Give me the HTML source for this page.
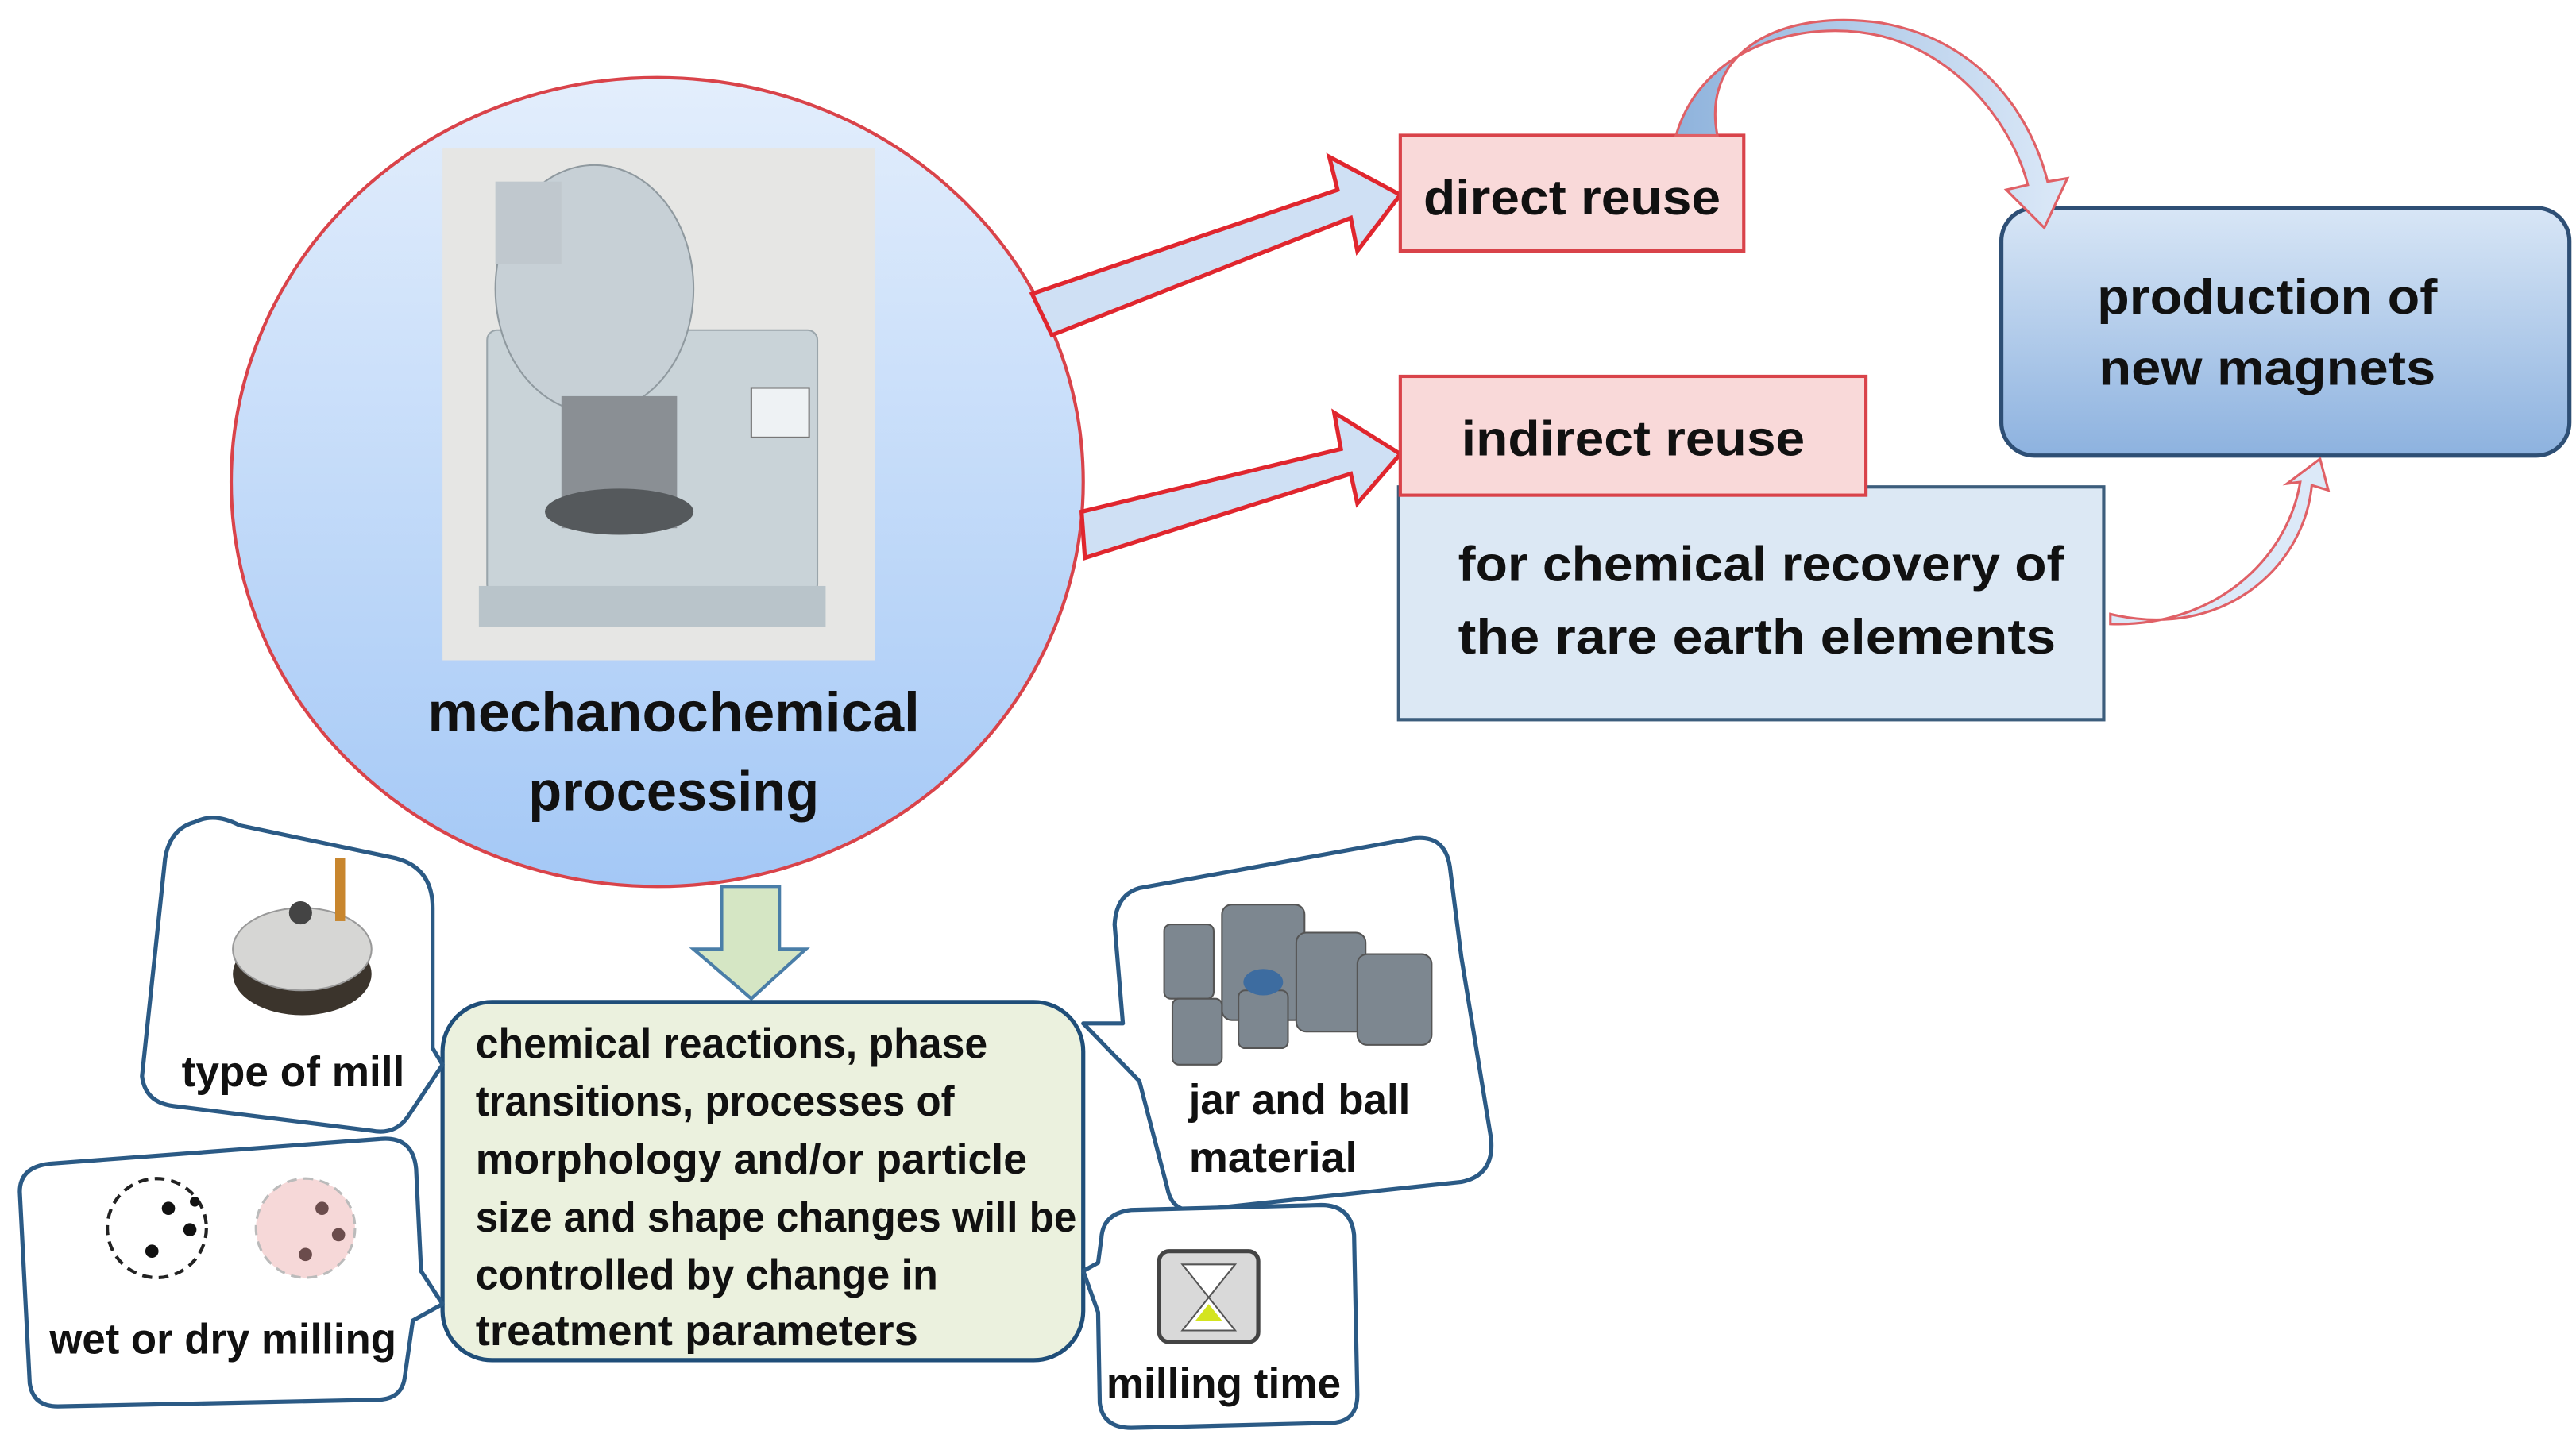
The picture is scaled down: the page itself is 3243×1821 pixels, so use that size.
<!DOCTYPE html>
<html><head><meta charset="utf-8"><style>
html,body{margin:0;padding:0;background:#fff;}
svg{display:block;}
text{font-family:"Liberation Sans",sans-serif;font-weight:bold;fill:#111;}
</style></head><body>
<svg width="3243" height="1821" viewBox="0 0 1560 876" preserveAspectRatio="none" xmlns="http://www.w3.org/2000/svg">
<defs>
<linearGradient id="cg" x1="0" y1="0" x2="0" y2="1"><stop offset="0" stop-color="#e3eefc"/><stop offset="1" stop-color="#a4c8f6"/></linearGradient>
<linearGradient id="pg" x1="0" y1="0" x2="0" y2="1"><stop offset="0" stop-color="#d8e6f6"/><stop offset="1" stop-color="#8db2df"/></linearGradient>
<linearGradient id="ag" x1="0" y1="0" x2="1" y2="0"><stop offset="0" stop-color="#8fb3dc"/><stop offset="1" stop-color="#dce9f8"/></linearGradient>
</defs>
<rect width="1560" height="876" fill="#fff"/>

<!-- circle -->
<ellipse cx="398" cy="292" rx="258" ry="245" fill="url(#cg)" stroke="#d9434a" stroke-width="2"/>
<!-- photo -->
<rect x="268" y="90" width="262" height="310" fill="#e6e6e4"/>
<rect x="295" y="200" width="200" height="160" rx="6" fill="#c9d3d8" stroke="#9aa5ab"/>
<ellipse cx="360" cy="175" rx="60" ry="75" fill="#c7d0d6" stroke="#8f999f"/>
<rect x="300" y="110" width="40" height="50" fill="#c0c8ce"/>
<rect x="340" y="240" width="70" height="80" fill="#8a8f94"/>
<ellipse cx="375" cy="310" rx="45" ry="14" fill="#55595c"/>
<rect x="455" y="235" width="35" height="30" fill="#eef2f4" stroke="#777"/>
<rect x="290" y="355" width="210" height="25" fill="#b9c4ca"/>
<text x="408" y="443" font-size="34" text-anchor="middle" textLength="298" lengthAdjust="spacingAndGlyphs">mechanochemical</text>
<text x="408" y="491" font-size="34" text-anchor="middle" textLength="176" lengthAdjust="spacingAndGlyphs">processing</text>

<!-- block arrows -->
<polygon points="625,178 810,115 805,95 848,118 822,152 818,132 637,203" fill="#cfe0f4" stroke="#e0262e" stroke-width="2.5"/>
<polygon points="655,310 812,272 808,250 848,275 822,305 818,287 657,338" fill="#cfe0f4" stroke="#e0262e" stroke-width="2.5"/>

<!-- boxes -->
<rect x="848" y="82" width="208" height="70" fill="#f9d9d9" stroke="#d9434a" stroke-width="2"/>
<text x="862" y="130" font-size="30" textLength="180" lengthAdjust="spacingAndGlyphs">direct reuse</text>
<rect x="847" y="295" width="427" height="141" fill="#dce8f4" stroke="#3c5d7c" stroke-width="2"/>
<rect x="848" y="228" width="282" height="72" fill="#f9d9d9" stroke="#d9434a" stroke-width="2"/>
<text x="885" y="276" font-size="30" textLength="208" lengthAdjust="spacingAndGlyphs">indirect reuse</text>
<text x="883" y="352" font-size="30" textLength="367" lengthAdjust="spacingAndGlyphs">for chemical recovery of</text>
<text x="883" y="396" font-size="30" textLength="362" lengthAdjust="spacingAndGlyphs">the rare earth elements</text>
<rect x="1212" y="126" width="344" height="150" rx="20" fill="url(#pg)" stroke="#2e4f75" stroke-width="2.5"/>
<text x="1373" y="190" font-size="30" text-anchor="middle" textLength="206" lengthAdjust="spacingAndGlyphs">production of</text>
<text x="1373" y="233" font-size="30" text-anchor="middle" textLength="204" lengthAdjust="spacingAndGlyphs">new magnets</text>

<!-- curved arrows -->
<path d="M1015,82 C1030,30 1090,10 1140,22 C1190,35 1220,80 1228,112 L1215,115 L1238,138 L1252,108 L1240,110 C1230,70 1200,25 1140,14 C1080,5 1030,30 1040,82 Z" fill="url(#ag)" stroke="#e06066" stroke-width="1.5"/>
<path d="M1278,378 C1340,380 1385,340 1393,292 L1385,293 L1405,278 L1410,297 L1400,294 C1395,345 1345,388 1278,372 Z" fill="#dce9f8" stroke="#e06066" stroke-width="1.5"/>

<!-- green down arrow -->
<polygon points="437,537 472,537 472,575 488,575 455,605 420,575 437,575" fill="#d5e6c4" stroke="#4a7ea8" stroke-width="2"/>

<!-- center box -->
<rect x="268" y="607" width="388" height="217" rx="30" fill="#ebf1de" stroke="#1f4e79" stroke-width="2.5"/>
<g font-size="26">
<text x="288" y="641" textLength="310" lengthAdjust="spacingAndGlyphs">chemical reactions, phase</text>
<text x="288" y="676" textLength="290" lengthAdjust="spacingAndGlyphs">transitions, processes of</text>
<text x="288" y="711" textLength="334" lengthAdjust="spacingAndGlyphs">morphology and/or particle</text>
<text x="288" y="746" textLength="364" lengthAdjust="spacingAndGlyphs">size and shape changes will be</text>
<text x="288" y="781" textLength="280" lengthAdjust="spacingAndGlyphs">controlled by change in</text>
<text x="288" y="815" textLength="268" lengthAdjust="spacingAndGlyphs">treatment parameters</text>
</g>

<!-- callouts -->
<g fill="#fff" stroke="#2b5a85" stroke-width="2.5" stroke-linejoin="round">
<path d="M118,498 Q130,492 145,500 L240,520 Q262,526 262,550 L262,635 L268,645 L248,675 Q240,688 225,685 L105,670 Q88,668 86,652 L100,520 Q103,502 118,498 Z"/>
<path d="M30,705 L230,690 Q250,688 252,708 L255,770 L268,790 L250,800 L245,835 Q243,848 228,848 L35,852 Q20,852 18,838 L12,722 Q12,707 30,705 Z"/>
<path d="M690,538 L855,508 Q875,505 878,525 L885,580 L903,690 Q905,712 885,716 L725,733 Q710,735 707,720 L690,655 L656,620 L680,620 L675,560 Q676,542 690,538 Z"/>
<path d="M685,733 L800,730 Q818,730 820,748 L822,845 Q822,862 805,862 L685,865 Q668,865 666,850 L665,795 L656,770 L665,765 L667,750 Q668,735 685,733 Z"/>
</g>
<!-- icons -->
<ellipse cx="183" cy="590" rx="42" ry="25" fill="#3b342c"/>
<ellipse cx="183" cy="575" rx="42" ry="25" fill="#d6d6d4" stroke="#999"/>
<circle cx="182" cy="553" r="7" fill="#444"/>
<rect x="203" y="520" width="6" height="38" fill="#c8862e"/>
<circle cx="95" cy="744" r="30" fill="#fff" stroke="#222" stroke-width="2" stroke-dasharray="6,4"/>
<circle cx="102" cy="732" r="4" fill="#111"/><circle cx="115" cy="745" r="4" fill="#111"/><circle cx="92" cy="758" r="4" fill="#111"/><circle cx="118" cy="728" r="3" fill="#111"/>
<circle cx="185" cy="744" r="30" fill="#f6d8d8" stroke="#bbb" stroke-width="1.5" stroke-dasharray="6,4"/>
<circle cx="195" cy="732" r="4" fill="#6b4c4c"/><circle cx="205" cy="748" r="4" fill="#6b4c4c"/><circle cx="185" cy="760" r="4" fill="#6b4c4c"/>
<g fill="#7d8790" stroke="#555">
<rect x="705" y="560" width="30" height="45" rx="4"/>
<rect x="740" y="548" width="50" height="70" rx="6"/>
<rect x="785" y="565" width="42" height="60" rx="6"/>
<rect x="822" y="578" width="45" height="55" rx="6"/>
<rect x="710" y="605" width="30" height="40" rx="4"/>
<rect x="750" y="600" width="30" height="35" rx="4"/>
</g>
<ellipse cx="765" cy="595" rx="12" ry="8" fill="#3d6ca0"/>
<text x="720" y="675" font-size="26" textLength="134" lengthAdjust="spacingAndGlyphs">jar and ball</text>
<text x="720" y="710" font-size="26" textLength="102" lengthAdjust="spacingAndGlyphs">material</text>
<rect x="702" y="758" width="60" height="55" rx="6" fill="#d9d9d9" stroke="#444" stroke-width="2.5"/>
<path d="M716,766 L748,766 L732,786 L748,806 L716,806 L732,786 Z" fill="#fff" stroke="#555"/>
<path d="M724,800 L740,800 L732,790 Z" fill="#d4e41f"/>
<text x="110" y="658" font-size="26" textLength="135" lengthAdjust="spacingAndGlyphs">type of mill</text>
<text x="30" y="820" font-size="26" textLength="210" lengthAdjust="spacingAndGlyphs">wet or dry milling</text>
<text x="670" y="847" font-size="26" textLength="142" lengthAdjust="spacingAndGlyphs">milling time</text>
</svg>
</body></html>
